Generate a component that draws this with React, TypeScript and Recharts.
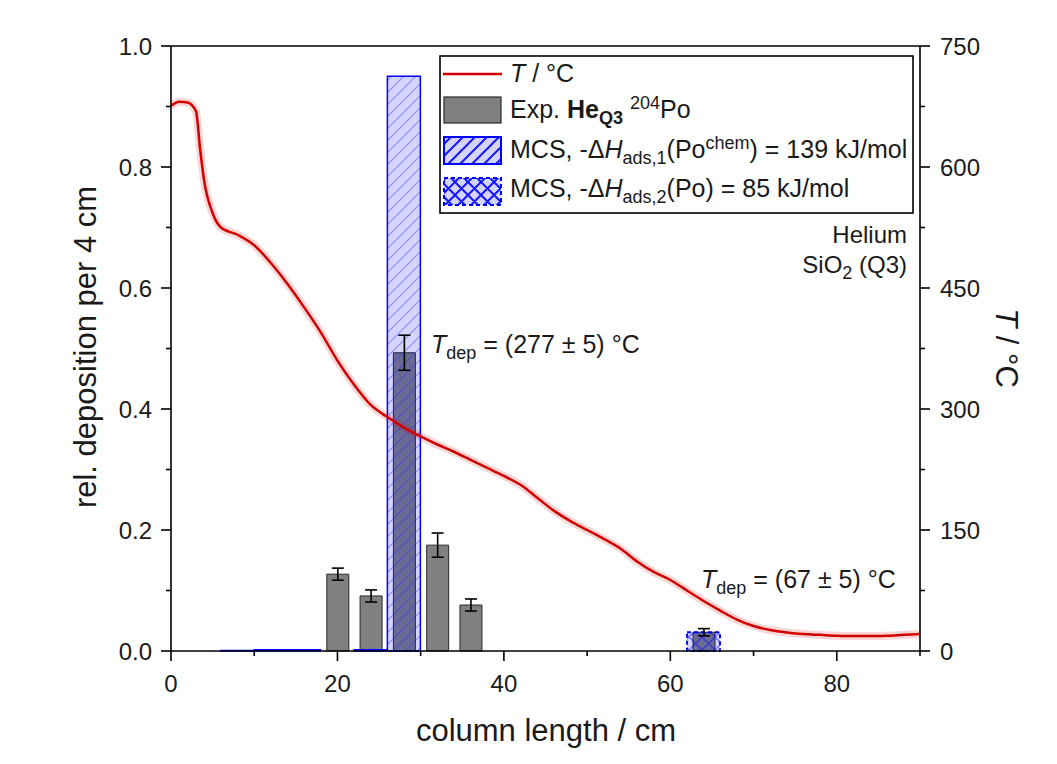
import { ComposedChart, Bar, Line, XAxis, YAxis, ErrorBar, ReferenceLine } from 'recharts'

// measured deposition per 4 cm bin (bin centres in cm)
const expX = [20, 24, 28, 32, 36, 64]
const expY = [0.127, 0.091, 0.493, 0.175, 0.076, 0.031]
const expErr = [0.01, 0.01, 0.029, 0.02, 0.01, 0.006]

// Monte Carlo simulation, chemisorption
const mcs1X = [8, 12, 16, 24, 28]
const mcs1Y = [0.001, 0.002, 0.002, 0.002, 0.95]

// Monte Carlo simulation, physisorption
const mcs2X = [64]
const mcs2Y = [0.031]

// temperature profile along the column
const tX = [0, 1, 2, 3, 3.5, 4, 5, 6, 8, 10, 12, 14, 16, 18, 20, 22, 24, 26, 28, 30, 32, 34, 36, 38, 40, 42, 44, 46, 48, 50, 52, 54, 56, 58, 60, 62, 64, 66, 68, 70, 72, 74, 76, 78, 80, 82, 84, 86, 88, 90]
const tY = [676, 681, 680, 669, 622, 582, 543, 525, 516, 503, 481, 455, 426, 395, 360, 330, 305, 290, 277, 266, 256, 247, 237, 227, 217, 206, 190, 174, 161, 150, 139, 127, 111, 98, 88, 75, 62, 50, 39, 31, 26, 23, 21, 20, 19, 18.5, 18.5, 19, 20, 21]

const xTicks = [0, 10, 20, 30, 40, 50, 60, 70, 80, 90]
const leftTicks = [0, 0.1, 0.2, 0.3, 0.4, 0.5, 0.6, 0.7, 0.8, 0.9, 1.0]
const rightTicks = [0, 75, 150, 225, 300, 375, 450, 525, 600, 675, 750]

const pick = (xs: number[], ys: number[], x: number) => {
  const i = xs.indexOf(x)
  return i < 0 ? undefined : ys[i]
}

const binX = Array.from(new Set([...expX, ...mcs1X, ...mcs2X])).sort((a, b) => a - b)
const bins = binX.map((x) => ({
  x,
  exp: pick(expX, expY, x),
  err: pick(expX, expErr, x),
  mcs1: pick(mcs1X, mcs1Y, x),
  mcs2: pick(mcs2X, mcs2Y, x),
}))
const temps = tX.map((x, i) => ({ x, t: tY[i] }))

const RED = '#d20000'
const BLUE = '#0000ff'
const INK = '#1a1a1a'
const FS = 24
const LFS = 25
const SUB = 18

function LeftTick({ x, y, payload, index }: any) {
  const major = index % 2 === 0
  return (
    <g>
      <line x1={x} x2={x - (major ? 10 : 5)} y1={y} y2={y} stroke="#000" strokeWidth={1.6} />
      {major && (
        <text x={x - 19} y={y + 8.5} textAnchor="end" fontSize={FS} fill={INK}>
          {Number(payload.value).toFixed(1)}
        </text>
      )}
    </g>
  )
}

function RightTick({ x, y, payload, index }: any) {
  const major = index % 2 === 0
  return (
    <g>
      <line x1={x} x2={x + (major ? 10 : 5)} y1={y} y2={y} stroke="#000" strokeWidth={1.6} />
      {major && (
        <text x={x + 20} y={y + 8.5} textAnchor="start" fontSize={FS} fill={INK}>
          {payload.value}
        </text>
      )}
    </g>
  )
}

function BottomTick({ x, y, payload, index }: any) {
  const major = index % 2 === 0
  return (
    <g>
      <line x1={x} x2={x} y1={y} y2={y + (major ? 10 : 5)} stroke="#000" strokeWidth={1.6} />
      {major && (
        <text x={x} y={y + 40.5} textAnchor="middle" fontSize={FS} fill={INK}>
          {payload.value}
        </text>
      )}
    </g>
  )
}

function Patterns({ suffix, strong }: { suffix: string; strong?: boolean }) {
  const hatchInk = strong ? 'rgba(0,0,255,0.9)' : 'rgba(40,40,255,0.35)'
  const crossInk = strong ? 'rgba(0,0,255,0.9)' : 'rgba(0,0,255,0.5)'
  const w = strong ? 2 : 1.3
  return (
    <defs>
      <pattern id={'hatch' + suffix} patternUnits="userSpaceOnUse" width={12} height={12}>
        <rect width={12} height={12} fill="rgba(0,0,255,0.17)" />
        <path d="M-3,3 l6,-6 M0,12 l12,-12 M9,15 l6,-6" stroke={hatchInk} strokeWidth={w} />
      </pattern>
      <pattern id={'cross' + suffix} patternUnits="userSpaceOnUse" width={13} height={13}>
        <rect width={13} height={13} fill="rgba(0,0,255,0.17)" />
        <path d="M-3,3 l6,-6 M0,13 l13,-13 M10,16 l6,-6 M-3,10 l6,6 M0,0 l13,13 M10,-3 l6,6" stroke={crossInk} strokeWidth={w} />
      </pattern>
    </defs>
  )
}

export default function App() {
  return (
    <div
      style={{
        position: 'absolute',
        left: 0,
        top: 0,
        width: 1057,
        height: 764,
        background: '#fff',
        fontFamily: '"Liberation Sans", Arial, sans-serif',
      }}
    >
      <ComposedChart width={1057} height={764} data={bins} margin={{ top: 46, right: 57, bottom: 53, left: 101 }}>
        <Patterns suffix="" />
        <XAxis
          xAxisId="t"
          dataKey="x"
          type="number"
          domain={[0, 90]}
          ticks={xTicks}
          interval={0}
          height={60}
          tickSize={0}
          tickMargin={0}
          tickLine={false}
          tick={BottomTick}
          axisLine={{ stroke: '#000', strokeWidth: 1.6 }}
        />
        <XAxis xAxisId="exp" dataKey="x" type="number" domain={[0, 90]} height={0} hide />
        <XAxis xAxisId="m1" dataKey="x" type="number" domain={[0, 90]} height={0} hide />
        <XAxis xAxisId="m2" dataKey="x" type="number" domain={[0, 90]} height={0} hide />
        <YAxis
          yAxisId="left"
          domain={[0, 1]}
          ticks={leftTicks}
          interval={0}
          width={70}
          tickSize={0}
          tickMargin={0}
          tickLine={false}
          tick={LeftTick}
          axisLine={{ stroke: '#000', strokeWidth: 1.6 }}
        />
        <YAxis
          yAxisId="right"
          orientation="right"
          domain={[0, 750]}
          ticks={rightTicks}
          interval={0}
          width={80}
          tickSize={0}
          tickMargin={0}
          tickLine={false}
          tick={RightTick}
          axisLine={{ stroke: '#000', strokeWidth: 1.6 }}
        />
        <ReferenceLine y={1} yAxisId="left" xAxisId="t" stroke="#000" strokeWidth={1.6} />

        <Bar xAxisId="exp" yAxisId="left" dataKey="exp" barSize={22} fill="#808080" stroke="#2a2a2a" strokeWidth={1} isAnimationActive={false}>
          <ErrorBar dataKey="err" width={6} stroke="#000" strokeWidth={1.6} direction="y" />
        </Bar>
        <Bar xAxisId="m1" yAxisId="left" dataKey="mcs1" barSize={33} fill="url(#hatch)" stroke={BLUE} strokeWidth={1.5} isAnimationActive={false} />
        <Bar xAxisId="m2" yAxisId="left" dataKey="mcs2" barSize={33} fill="url(#cross)" stroke={BLUE} strokeWidth={2} strokeDasharray="4 3" isAnimationActive={false} />

        <Line data={temps} xAxisId="t" yAxisId="right" dataKey="t" type="monotone" stroke="rgba(210,0,0,0.16)" strokeWidth={8} dot={false} activeDot={false} isAnimationActive={false} />
        <Line data={temps} xAxisId="t" yAxisId="right" dataKey="t" type="monotone" stroke={RED} strokeWidth={2.5} dot={false} activeDot={false} isAnimationActive={false} />
      </ComposedChart>

      <svg width={1057} height={764} style={{ position: 'absolute', left: 0, top: 0, pointerEvents: 'none' }}>
        <Patterns suffix="L" strong />
        {/* axis titles */}
        <text x={96} y={347} transform="rotate(-90 96 347)" textAnchor="middle" fontSize={31} fill={INK}>
          rel. deposition per 4 cm
        </text>
        <text x={996} y={348} transform="rotate(90 996 348)" textAnchor="middle" fontSize={31} fill={INK}>
          <tspan fontStyle="italic">T</tspan> / °C
        </text>
        <text x={546} y={741} textAnchor="middle" fontSize={31} fill={INK}>
          column length / cm
        </text>

        {/* annotations */}
        <text x={431} y={353} fontSize={LFS} fill={INK}>
          <tspan fontStyle="italic">T</tspan>
          <tspan fontSize={SUB} dy={6}>dep</tspan>
          <tspan dy={-6}> = (277 ± 5) °C</tspan>
        </text>
        <text x={701} y={588} fontSize={LFS} fill={INK}>
          <tspan fontStyle="italic">T</tspan>
          <tspan fontSize={SUB} dy={6}>dep</tspan>
          <tspan dy={-6}> = (67 ± 5) °C</tspan>
        </text>
        <text x={907} y={243} textAnchor="end" fontSize={FS} fill={INK}>Helium</text>
        <text x={907} y={273} textAnchor="end" fontSize={FS} fill={INK}>
          SiO<tspan fontSize={SUB} dy={6}>2</tspan>
          <tspan dy={-6}> (Q3)</tspan>
        </text>

        {/* legend */}
        <rect x={440} y={56} width={473} height={157} fill="#fff" stroke="#000" strokeWidth={1.6} />
        <line x1={443} x2={502} y1={74} y2={74} stroke={RED} strokeWidth={2.5} />
        <text x={510} y={82} fontSize={LFS} fill={INK}>
          <tspan fontStyle="italic">T</tspan> / °C
        </text>

        <rect x={444} y={97} width={57} height={26} fill="#808080" stroke="#2a2a2a" strokeWidth={1.2} />
        <text x={510} y={118} fontSize={LFS} fill={INK}>
          Exp. <tspan fontWeight="bold">He</tspan>
          <tspan fontWeight="bold" fontSize={SUB} dy={6}>Q3</tspan>
          <tspan dy={-6}> </tspan>
          <tspan fontSize={SUB} dy={-9}>204</tspan>
          <tspan dy={9}>Po</tspan>
        </text>

        <rect x={444} y={137} width={57} height={27} fill="url(#hatchL)" stroke={BLUE} strokeWidth={2} />
        <text x={510} y={158} fontSize={LFS} fill={INK}>
          MCS, -Δ<tspan fontStyle="italic">H</tspan>
          <tspan fontSize={SUB} dy={6}>ads,1</tspan>
          <tspan dy={-6}>(Po</tspan>
          <tspan fontSize={SUB} dy={-9}>chem</tspan>
          <tspan dy={9}>) = 139 kJ/mol</tspan>
        </text>

        <rect x={444} y={178} width={57} height={27} fill="url(#crossL)" stroke={BLUE} strokeWidth={2} strokeDasharray="4 3" />
        <text x={510} y={197} fontSize={LFS} fill={INK}>
          MCS, -Δ<tspan fontStyle="italic">H</tspan>
          <tspan fontSize={SUB} dy={6}>ads,2</tspan>
          <tspan dy={-6}>(Po) = 85 kJ/mol</tspan>
        </text>
      </svg>
    </div>
  )
}
